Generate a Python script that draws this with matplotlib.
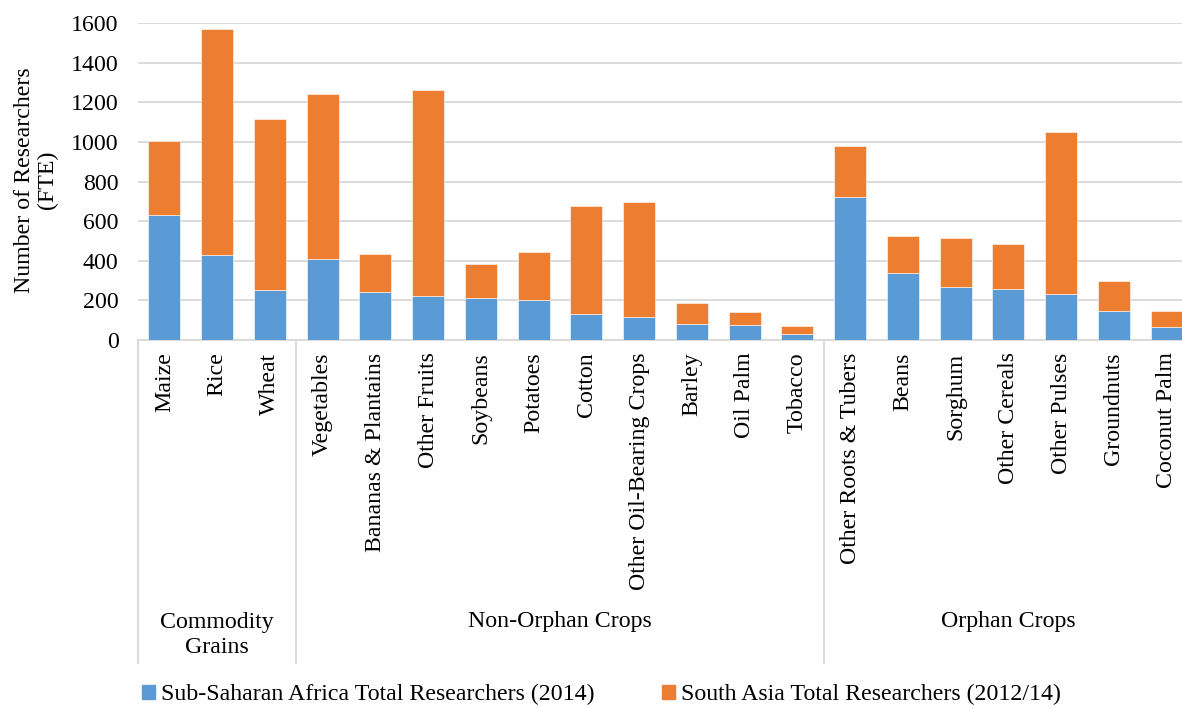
import matplotlib
matplotlib.use("Agg")
import matplotlib.pyplot as plt
from matplotlib.patches import Patch
import numpy as np

plt.rcParams['font.family'] = ['Liberation Serif', 'DejaVu Serif']

crops = ["Maize", "Rice", "Wheat",
         "Vegetables", "Bananas & Plantains", "Other Fruits", "Soybeans",
         "Potatoes", "Cotton", "Other Oil-Bearing Crops", "Barley", "Oil Palm",
         "Tobacco",
         "Other Roots & Tubers", "Beans", "Sorghum", "Other Cereals",
         "Other Pulses", "Groundnuts", "Coconut Palm"]
ssa = [633, 428, 255,
       410, 242, 223, 213, 201, 130, 115, 79, 78, 30,
       723, 338, 267, 257, 232, 145, 64]
south_asia = [374, 1143, 862,
              831, 191, 1039, 173, 246, 549, 584, 109, 64, 39,
              256, 187, 248, 229, 820, 153, 80]
groups = ["Commodity\nGrains", "Non-Orphan Crops", "Orphan Crops"]
group_sizes = [3, 10, 7]

blue = "#5B9BD5"
orange = "#ED7D31"
grid = "#D9D9D9"
FS = 17.2

fig = plt.figure(figsize=(11.82, 7.08), dpi=100)
ax = fig.add_axes([138 / 1182, 1 - 340 / 708, 1055 / 1182, 316.7 / 708])

x = np.arange(len(crops))
w = 0.607
ax.bar(x, ssa, w, color=blue, edgecolor="white", linewidth=0.4, zorder=3)
ax.bar(x, south_asia, w, bottom=ssa, color=orange, edgecolor="white",
       linewidth=0.4, zorder=3)

ax.set_xlim(-0.5, len(crops) - 0.5)
ax.set_ylim(0, 1600)
ax.set_yticks(np.arange(0, 1601, 200))
ax.yaxis.grid(True, color=grid, linewidth=1.3, zorder=0)
ax.set_axisbelow(True)
for s in ["top", "right", "left"]:
    ax.spines[s].set_visible(False)
ax.spines["bottom"].set_color(grid)
ax.spines["bottom"].set_linewidth(1.3)
ax.tick_params(axis="y", length=0, pad=14, labelsize=FS)
ax.tick_params(axis="x", length=0, pad=9, labelsize=FS)
ax.set_xticks(x)
ax.set_xticklabels(crops, rotation=90, va="top", ha="center")

# group separators and group names under the category labels
trans = ax.get_xaxis_transform()
edges = np.concatenate([[0], np.cumsum(group_sizes)]) - 0.5
for e in edges[:-1]:
    ax.plot([e, e], [0, -1.02], color=grid, linewidth=1.3,
            transform=trans, clip_on=False)
for name, a, b in zip(groups, edges[:-1], edges[1:]):
    yy = -0.931 if "\n" in name else -0.89
    ax.text((a + b) / 2, yy, name, transform=trans, ha="center", va="center",
            fontsize=FS, linespacing=1.22)

fig.text(36 / 1182, 1 - 180 / 708, "Number of Researchers\n(FTE)",
         rotation=90, ha="center", va="center", fontsize=FS,
         multialignment="center", linespacing=1.15)

handles = [Patch(color=blue), Patch(color=orange)]
labels = ["Sub-Saharan Africa Total Researchers (2014)",
          "South Asia Total Researchers (2012/14)"]
fig.legend(handles, labels, loc="lower left",
           bbox_to_anchor=(132 / 1182, -0.010), ncol=2, frameon=False,
           fontsize=FS, handlelength=0.55, handleheight=0.55,
           handletextpad=0.25, columnspacing=2.85, borderaxespad=0)

fig.savefig("out.png", dpi=100)
